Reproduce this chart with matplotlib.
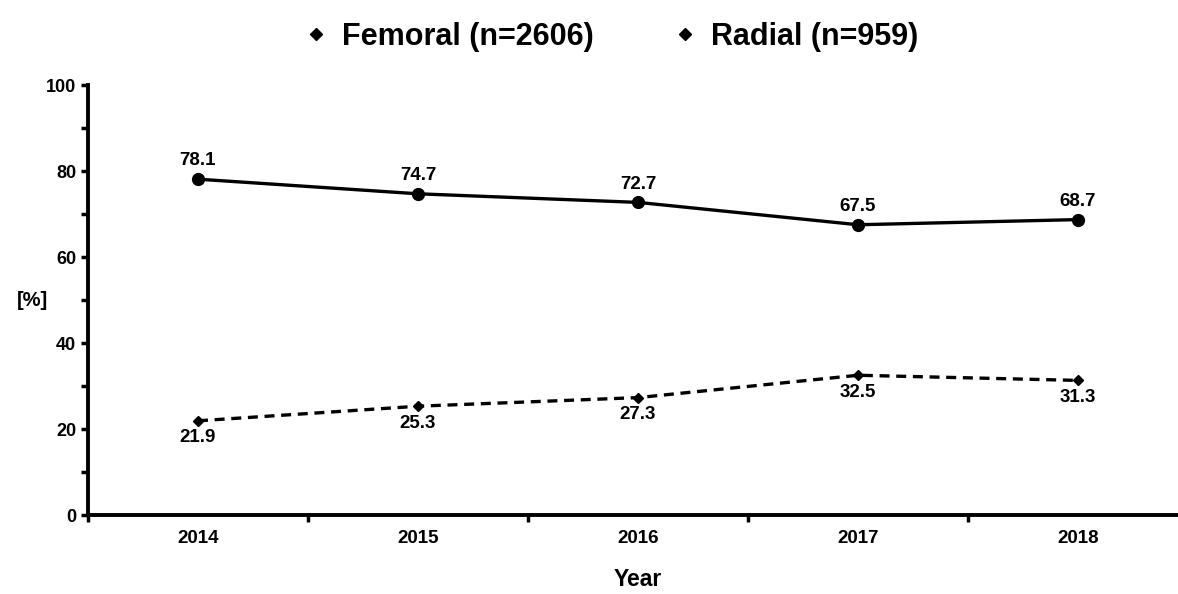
import matplotlib.pyplot as plt
from matplotlib.ticker import MultipleLocator, FixedLocator

plt.rcParams['font.family'] = ['Liberation Sans', 'DejaVu Sans']
plt.rcParams['font.weight'] = 'bold'

years = ["2014", "2015", "2016", "2017", "2018"]
femoral = [78.1, 74.7, 72.7, 67.5, 68.7]
radial = [21.9, 25.3, 27.3, 32.5, 31.3]
femoral_label = "Femoral (n=2606)"
radial_label = "Radial (n=959)"

fig = plt.figure(figsize=(11.78, 5.94), dpi=100)
ax = fig.add_axes([88 / 1178, 79 / 594, 1100 / 1178, 430 / 594])

x = list(range(len(years)))

ax.plot(x, femoral, color="black", linewidth=2.4, marker="o", markersize=8.5,
        label=femoral_label)
ax.plot(x, radial, color="black", linewidth=2.4, linestyle=(0, (3, 2)),
        marker="D", markersize=5.5, label=radial_label)

# value labels
for xi, v in zip(x, femoral):
    ax.annotate(f"{v}", (xi, v), xytext=(0, 7), textcoords="offset points",
                ha="center", va="bottom", fontsize=13.5, fontweight="bold")
for xi, v in zip(x, radial):
    ax.annotate(f"{v}", (xi, v), xytext=(0, -6), textcoords="offset points",
                ha="center", va="top", fontsize=13.5, fontweight="bold")

ax.set_xlim(-0.5, len(years) - 0.5)
ax.set_ylim(0, 100)

ax.set_xticks(x)
ax.set_xticklabels(years, fontsize=13.5, fontweight="bold")
ax.tick_params(axis="x", which="major", length=0, pad=11)
ax.xaxis.set_minor_locator(FixedLocator([i - 0.5 for i in range(len(years))]))
ax.tick_params(axis="x", which="minor", length=5, width=2.5, direction="out")

ax.yaxis.set_major_locator(MultipleLocator(20))
ax.yaxis.set_minor_locator(MultipleLocator(10))
ax.tick_params(axis="y", which="both", length=5, width=2.5, direction="out",
               labelsize=13)
for lbl in ax.get_yticklabels():
    lbl.set_fontweight("bold")

for side in ["top", "right"]:
    ax.spines[side].set_visible(False)
for side in ["left", "bottom"]:
    ax.spines[side].set_linewidth(2.8)

ax.set_xlabel("Year", fontsize=16.5, fontweight="bold", labelpad=15)
ax.set_ylabel("[%]", fontsize=14.5, fontweight="bold", rotation=0, labelpad=10,
              va="center")

leg = fig.legend(loc="upper center", bbox_to_anchor=(0.524, 1.01), ncol=2,
                 frameon=False, handlelength=0, handletextpad=0.85,
                 columnspacing=3.0, prop={"size": 22, "weight": "bold"})
for h in leg.legend_handles:
    h.set_linestyle("none")
    h.set_marker("D")
    h.set_markersize(6)

fig.savefig("out.png", dpi=100)
